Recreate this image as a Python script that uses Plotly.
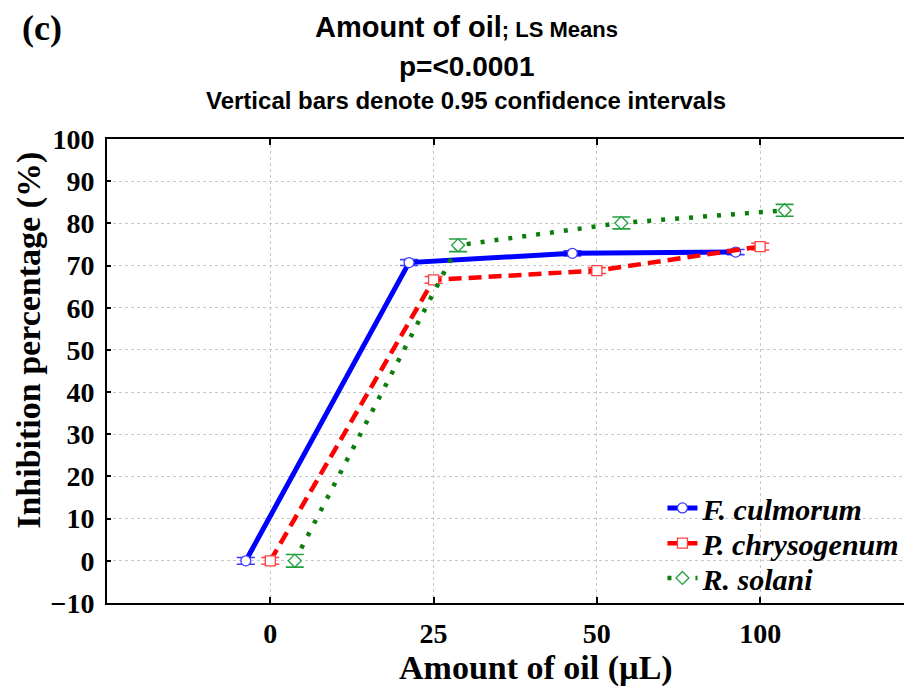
import plotly.graph_objects as go

# Data
doses = ["0", "25", "50", "100"]
f_culmorum = [0.0, 70.7, 72.9, 73.2]
f_culmorum_ci = [0.8, 0.7, 0.6, 0.6]
p_chrysogenum = [0.0, 66.6, 68.8, 74.5]
p_chrysogenum_ci = [0.8, 0.8, 0.7, 0.8]
r_solani = [0.0, 74.8, 80.1, 83.1]
r_solani_ci = [1.5, 1.5, 1.4, 1.4]

SERIF = "Liberation Serif, Times New Roman, serif"
SANS = "Liberation Sans, Arial, sans-serif"

series = [
    # name, values, ci, offset, line colour, dash, width, marker symbol, marker colour, legend
    ("F. culmorum", f_culmorum, f_culmorum_ci, -0.15, "#0000ff", "solid", 5, "circle", "#3a3aff", "legend"),
    ("P. chrysogenum", p_chrysogenum, p_chrysogenum_ci, 0.0, "#ff0000", "13px,7px", 4.5, "square", "#ff4040", "legend2"),
    ("R. solani", r_solani, r_solani_ci, 0.15, "#0a7d0a", "4px,10px", 4.5, "diamond", "#22a040", "legend3"),
]

fig = go.Figure()

for name, vals, ci, off, col, dash, lw, sym, mcol, leg in series:
    xs = [i + off for i in range(len(doses))]
    fig.add_trace(go.Scatter(
        x=xs,
        y=vals,
        mode="lines+markers",
        name=f"<b><i>{name}</i></b>",
        legend=leg,
        line=dict(color=col, width=lw, dash=dash),
        marker=dict(symbol=sym, size=10, color="white",
                    line=dict(color=mcol, width=1.3)),
        error_y=dict(type="data", array=ci, visible=True,
                     color=mcol, thickness=1.6, width=9),
    ))

# one legend per row so the row spacing can follow the original
def legend_box(yc):
    return dict(
        x=0.69, y=yc, xanchor="left", yanchor="middle",
        font=dict(family=SERIF, size=30, color="black"),
        bgcolor="rgba(0,0,0,0)",
        itemwidth=30,
    )

# page body has an 8px margin, so the figure is drawn 8px in from the corner
fig.update_layout(
    width=912,
    height=686,
    margin=dict(l=99, r=8, t=131, b=91),
    plot_bgcolor="white",
    paper_bgcolor="white",
    showlegend=True,
    legend=legend_box(0.205),
    legend2=legend_box(0.129),
    legend3=legend_box(0.054),
    xaxis=dict(
        range=[-1, 3.93],
        tickmode="array",
        tickvals=list(range(len(doses))),
        ticktext=doses,
        ticks="inside",
        ticklen=6,
        tickwidth=1.5,
        tickcolor="black",
        showline=True,
        linecolor="black",
        linewidth=2,
        mirror="ticks",
        showgrid=True,
        gridcolor="#c8c8c8",
        griddash="dot",
        gridwidth=1,
        zeroline=False,
        tickfont=dict(family=SERIF, size=28, color="black", weight="bold"),
        ticklabelstandoff=4,
    ),
    yaxis=dict(
        range=[-10, 100],
        dtick=10,
        ticks="inside",
        ticklen=4,
        tickwidth=1.5,
        tickcolor="black",
        showline=True,
        linecolor="black",
        linewidth=2,
        showgrid=True,
        gridcolor="#c8c8c8",
        griddash="dot",
        gridwidth=1,
        zeroline=False,
        tickfont=dict(family=SERIF, size=28, color="black", weight="bold"),
        ticklabelstandoff=5,
    ),
)

annotations = [
    dict(text="<b>Amount of oil</b><span style='font-size:22px'><b>; LS Means</b></span>",
         x=0.446, y=1.241, font=dict(family=SANS, size=29, color="black")),
    dict(text="<b>p=&lt;0.0001</b>",
         x=0.446, y=1.157, font=dict(family=SANS, size=28, color="black")),
    dict(text="<b>Vertical bars denote 0.95 confidence intervals</b>",
         x=0.446, y=1.082, font=dict(family=SANS, size=24, color="black")),
    dict(text="<b>(c)</b>",
         x=-0.081, y=1.239, font=dict(family=SERIF, size=36, color="black")),
    dict(text="<b>Amount of oil (µL)</b>",
         x=0.533, y=-0.14, font=dict(family=SERIF, size=34, color="black")),
    dict(text="<b>Inhibition percentage (%)</b>", textangle=-90,
         x=-0.097, y=0.567, font=dict(family=SERIF, size=34, color="black")),
]
for a in annotations:
    fig.add_annotation(xref="paper", yref="paper", showarrow=False,
                       xanchor="center", yanchor="middle", **a)

fig.write_html("out.html")
